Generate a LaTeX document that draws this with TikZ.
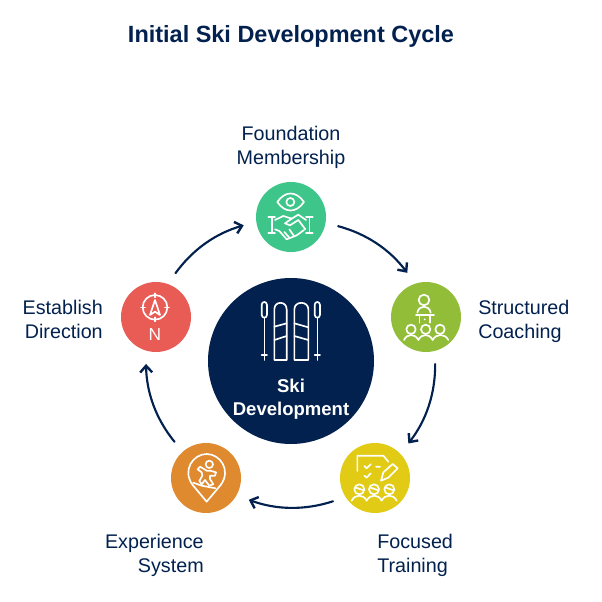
\documentclass[tikz,border=0pt]{standalone}
\usepackage{fontspec}
\setmainfont{Liberation Sans}
\usetikzlibrary{arrows.meta}
\definecolor{navy}{HTML}{02214F}
\definecolor{cgreen}{HTML}{3EC58A}
\definecolor{colive}{HTML}{92BD39}
\definecolor{cyellow}{HTML}{E1CB14}
\definecolor{corange}{HTML}{E08A30}
\definecolor{cred}{HTML}{E95B55}
\tikzset{
  disc/.style={circle,fill=#1,minimum size=52.5pt,inner sep=0pt,outer sep=9.75pt},
  label/.style={text=navy,font=\fontsize{14.8}{18}\selectfont,inner sep=0pt},
  ring/.style={draw=navy,line width=1.6pt,-{Straight Barb[length=5pt,width=9pt,line width=1.8pt]},bend left=19,looseness=.9,line cap=round},
  ico/.style={draw=white,line width=1.25pt,line cap=round,line join=round},
  zoomed/.style={shift={#1},x=.25pt,y=-.25pt}
}
\begin{document}
\begin{tikzpicture}[x=.75pt,y=-.75pt]
\useasboundingbox (0,0) rectangle (602,602);
\fill[white] (0,0) rectangle (602,602);
\node[text=navy,font=\fontsize{17.6}{22}\selectfont\bfseries,inner sep=0pt] (title) at (291,36) {Initial Ski Development Cycle};
% central disc
\node[circle,fill=navy,minimum size=124.5pt,inner sep=0pt] (hub) at (291,361) {};
\node[text=white,font=\fontsize{13.9}{17.25}\selectfont\bfseries,align=center,inner sep=0pt] (hubtext) at (291,399) {Ski\\Development};
% satellites
\node[disc=cgreen] (top) at (291,217) {};
\node[disc=colive] (right) at (426,317) {};
\node[disc=cyellow] (focus) at (375,478) {};
\node[disc=corange] (exper) at (206,478) {};
\node[disc=cred] (estab) at (156,317) {};
% connectors
\draw[ring] (top.-11) to (right.113);
\draw[ring] (right.-79) to (focus.46);
\draw[ring] (focus.209) to (exper.-27);
\draw[ring] (exper.131) to (estab.-102);
\draw[ring] (estab.66) to (top.190);
% labels
\node[label,align=center] (l1) at (291,147) {Foundation\\Membership};
\node[label,align=left,anchor=west] (l2) at (478,321) {Structured\\Coaching};
\node[label,align=left,anchor=west] (l3) at (377,555) {Focused\\Training};
\node[label,align=right,anchor=east] (l4) at (204,555) {Experience\\System};
\node[label,align=right,anchor=east] (l5) at (103,319) {Establish\\Direction};
% handshake icon
\begin{scope}[zoomed={(230,170)}]
\draw[ico] (181,96) circle (12);
\draw[ico] (142,96) .. controls (165,62) and (198,62) .. (222,96) .. controls (198,130) and (165,130) .. (142,96) -- cycle;
\draw[ico] (115,140) -- (135,140) (125,140) -- (125,188) (115,188) -- (135,188);
\draw[ico] (228,140) -- (248,140) (238,140) -- (238,188) (228,188) -- (248,188);
\draw[ico] (135,150) -- (160,138) -- (185,146) -- (165,160) -- (180,166) -- (205,150) -- (226,178);
\draw[ico] (228,150) -- (205,134) -- (185,146);
\draw[ico] (135,178) -- (148,183) -- (170,208) -- (200,196) -- (222,180);
\draw[ico] (163,186) -- (178,203) (178,178) -- (192,198);
\end{scope}
% coaching icon
\begin{scope}[zoomed={(380,270)}]
\draw[ico] (132,90) circle (16);
\draw[ico] (112,128) .. controls (116,104) and (148,104) .. (152,128);
\draw[ico] (108,135) -- (162,135) (118,135) -- (118,158) (150,135) -- (150,158);
\fill[white] (134,148) circle (3);
\foreach \cx in {93,137,180} \draw[ico] (\cx,178) circle (14);
\draw[ico] (72,210) .. controls (82,190) and (105,190) .. (115,210) .. controls (125,190) and (148,190) .. (158,210) .. controls (168,190) and (195,190) .. (205,210);
\end{scope}
% training icon
\begin{scope}[zoomed={(330,435)}]
\draw[ico] (82,108) -- (82,62) -- (160,62) -- (175,80);
\draw[ico] (103,93) -- (110,100) -- (122,88) (138,95) -- (150,95) (103,122) -- (110,128) -- (122,115);
\draw[ico] (153,137) -- (160,112) -- (188,87) -- (203,100) -- (175,128) -- cycle;
\foreach \cx in {88,132,178} {\draw[ico] (\cx,163) circle (15); \draw[ico] (\cx-13,157) -- (\cx+13,166);}
\draw[ico] (65,197) .. controls (75,177) and (100,177) .. (110,197) .. controls (120,177) and (145,177) .. (155,197) .. controls (165,177) and (190,177) .. (200,197);
\end{scope}
% experience icon
\begin{scope}[zoomed={(160,435)}]
\draw[ico] (140,200) -- (98,150) .. controls (65,105) and (100,57) .. (140,57) .. controls (180,57) and (215,105) .. (182,150) -- cycle;
\draw[ico] (148,88) circle (11);
\draw[ico] (113,103) -- (120,95) -- (140,107) -- (150,107) -- (168,112) -- (165,122) -- (150,122) -- (150,132) -- (160,148) -- (148,152) -- (135,135) -- (125,148) -- (118,138) -- (127,122) -- (125,112) -- cycle;
\draw[ico] (100,143) -- (125,152) -- (167,160);
\end{scope}
% compass icon
\begin{scope}[zoomed={(110,275)}]
\draw[ico] (135,97) circle (37);
\draw[ico] (135,55) -- (135,67) (135,127) -- (135,139) (93,97) -- (105,97) (165,97) -- (177,97);
\draw[ico] (135,75) -- (120,120) -- (135,110) -- (150,120) -- cycle;
\node[text=white,font=\fontsize{13}{16}\selectfont,inner sep=0pt] (north) at (135,178) {N};
\end{scope}
% ski icon
\begin{scope}[zoomed={(240,290)}]
\foreach \px in {73,232} {
  \draw[ico] (\px-8,45) .. controls (\px-8,33) and (\px+8,33) .. (\px+8,45) -- (\px+8,74) .. controls (\px+8,86) and (\px-8,86) .. (\px-8,74) -- cycle;
  \draw[ico] (\px,84) -- (\px,210) (\px-8,195) -- (\px+8,195);
}
\draw[ico] (103,210) -- (103,58) .. controls (103,32) and (140,32) .. (140,58) -- (140,210) -- cycle;
\draw[ico] (163,210) -- (163,58) .. controls (163,32) and (205,32) .. (205,58) -- (205,210) -- cycle;
\draw[ico] (103,110) -- (140,100) (103,150) -- (140,138) (163,100) -- (205,112) (163,138) -- (205,150);
\end{scope}
\end{tikzpicture}
\end{document}
